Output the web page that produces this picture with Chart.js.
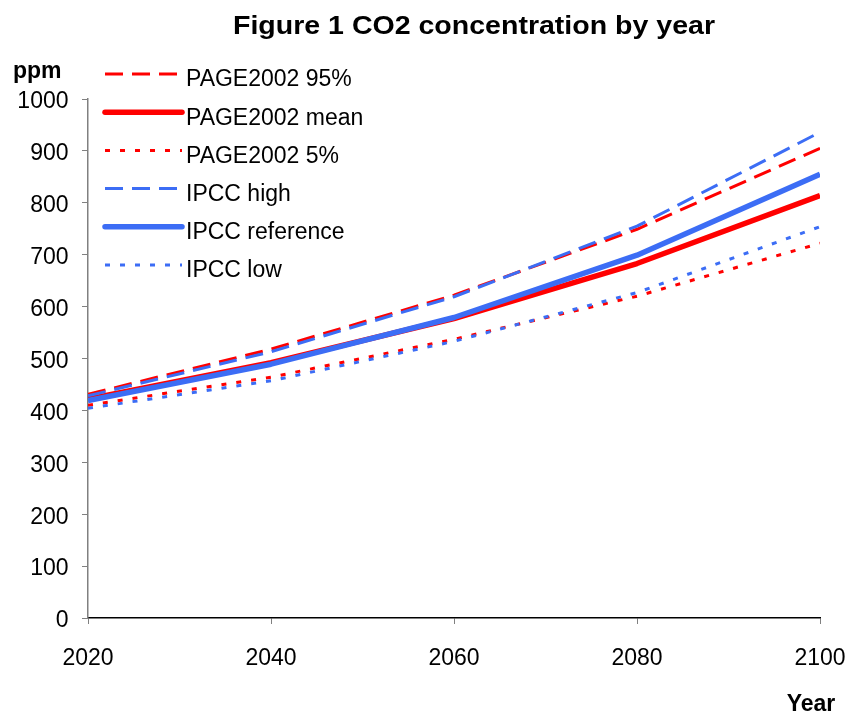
<!DOCTYPE html>
<html>
<head>
<meta charset="utf-8">
<script src="https://cdn.jsdelivr.net/npm/chart.js@4/dist/chart.umd.min.js"></script>
<style>
  html, body { margin: 0; padding: 0; background: #fff; }
  #wrap { width: 847px; height: 713px; }
</style>
</head>
<body>
<div id="wrap"><canvas id="chart" width="847" height="713"></canvas></div>
<script>
// CO2 concentration (ppm)
const years = [2020, 2040, 2060, 2080, 2100];
const page95 = [431, 518, 622, 749, 905];
const pageMean = [422, 492, 577, 683, 814];
const page5 = [410, 464, 537, 620, 722];
const ipccHigh = [428, 513, 619, 755, 936];
const ipccRef = [419, 489, 579, 699, 855];
const ipccLow = [404, 457, 533, 627, 754];

const RED = "#ff0000";
const BLUE = "#3c6df5";
const FONT = '"Liberation Sans", Arial, sans-serif';

const pts = arr => arr.map((v, i) => ({ x: years[i], y: v }));

function line(label, values, color, kind, order) {
  const ds = {
    label, data: pts(values), borderColor: color, backgroundColor: color,
    pointRadius: 0, tension: 0, fill: false, order,
    borderCapStyle: "butt", borderJoinStyle: "round"
  };
  if (kind === "dash") { ds.borderWidth = 3; ds.borderDash = [18, 9]; }
  else if (kind === "dot") { ds.borderWidth = 3; ds.borderDash = [5, 10]; }
  else { ds.borderWidth = 5.5; }
  return ds;
}

const datasets = [
  line("PAGE2002 95%", page95, RED, "dash", 1),
  line("PAGE2002 mean", pageMean, RED, "solid", 1),
  line("PAGE2002 5%", page5, RED, "dot", 1),
  line("IPCC high", ipccHigh, BLUE, "dash", 0),
  line("IPCC reference", ipccRef, BLUE, "solid", 0),
  line("IPCC low", ipccLow, BLUE, "dot", 0)
];

const extras = {
  id: "extras",
  afterDraw(chart) {
    const ctx = chart.ctx;
    ctx.save();
    ctx.fillStyle = "#000";

    // title
    const t = "Figure 1 CO2 concentration by year";
    ctx.font = "bold 26px " + FONT;
    const w = ctx.measureText(t).width;
    ctx.save();
    ctx.translate(474, 33.5);
    ctx.scale(482 / w, 1);
    ctx.textAlign = "center";
    ctx.textBaseline = "alphabetic";
    ctx.fillText(t, 0, 0);
    ctx.restore();

    // axis names
    ctx.font = "bold 23px " + FONT;
    ctx.textAlign = "left";
    ctx.textBaseline = "alphabetic";
    ctx.fillText("ppm", 13, 78);
    ctx.textAlign = "center";
    ctx.fillText("Year", 811, 711);

    // legend
    ctx.font = "23px " + FONT;
    ctx.textAlign = "left";
    ctx.textBaseline = "middle";
    chart.data.datasets.forEach((ds, i) => {
      const y = 74 + i * 38.2;
      ctx.save();
      ctx.strokeStyle = ds.borderColor;
      ctx.lineWidth = ds.borderWidth;
      ctx.setLineDash(ds.borderDash || []);
      ctx.lineCap = ds.borderDash ? "butt" : "round";
      ctx.beginPath();
      ctx.moveTo(105, y);
      ctx.lineTo(182, y);
      ctx.stroke();
      ctx.restore();
      ctx.fillStyle = "#000";
      ctx.fillText(ds.label, 186, y + 6);
    });
    ctx.restore();
  }
};

new Chart(document.getElementById("chart"), {
  type: "line",
  data: { datasets },
  options: {
    responsive: false,
    animation: false,
    devicePixelRatio: 1,
    layout: { padding: { top: 99, right: 27, left: 0, bottom: 0 } },
    plugins: { legend: { display: false }, tooltip: { enabled: false }, title: { display: false } },
    scales: {
      x: {
        type: "linear", min: 2020, max: 2100,
        afterFit: s => { s.height = 95; s.paddingLeft = 0; s.paddingRight = 0; },
        ticks: {
          stepSize: 20, padding: 21, color: "#000",
          font: { size: 23, family: FONT },
          callback: v => String(v)
        },
        grid: { drawOnChartArea: false, drawTicks: true, tickLength: 6, color: "#808080" },
        border: { color: "#000", width: 1.5 }
      },
      y: {
        min: 0, max: 1000,
        afterFit: s => { s.width = 88; s.paddingTop = 0; s.paddingBottom = 0; },
        ticks: {
          stepSize: 100, padding: 13.5, color: "#000", labelOffset: 3,
          font: { size: 23, family: FONT },
          callback: v => String(v)
        },
        grid: { drawOnChartArea: false, drawTicks: true, tickLength: 6, color: "#808080" },
        border: { color: "#808080", width: 1.5 }
      }
    }
  },
  plugins: [extras]
});
</script>
</body>
</html>
